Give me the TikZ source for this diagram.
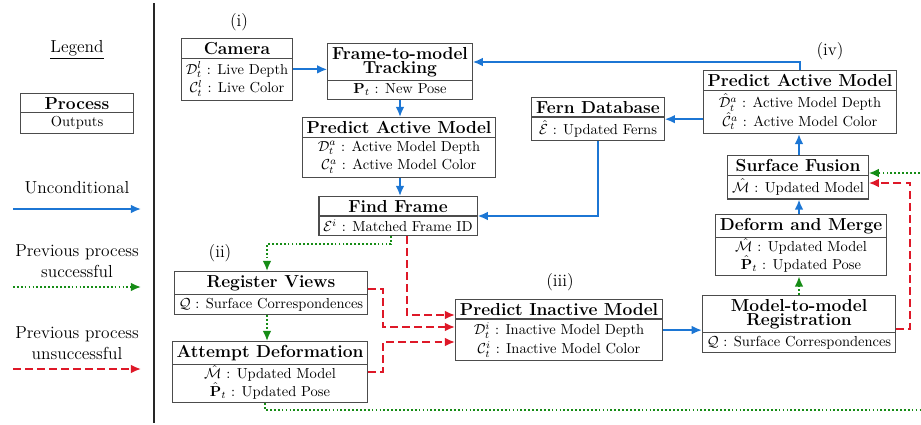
\documentclass[tikz,border=0pt]{standalone}
\usepackage{amsmath}
\usepackage{xcolor}
\usetikzlibrary{shapes.multipart,arrows.meta}
\definecolor{uncblue}{RGB}{28,118,212}
\definecolor{okgreen}{RGB}{22,140,22}
\definecolor{failred}{RGB}{222,24,40}

\begin{document}
\begin{tikzpicture}[x=0.69pt,y=-0.69pt,
    process/.style={rectangle split, rectangle split parts=2, draw=black!70,
        line width=0.8pt, align=center, inner xsep=3pt, inner ysep=2.1pt, anchor=north},
    uncond/.style={draw=uncblue, line width=1.2pt, -{Latex[length=7pt,width=6pt]}},
    success/.style={draw=okgreen, line width=1.2pt, dash pattern=on 1.2pt off 1.5pt,
        -{Latex[length=7pt,width=6pt]}},
    failure/.style={draw=failred, line width=1.2pt, dash pattern=on 5.5pt off 2.8pt,
        -{Latex[length=7pt,width=6pt]}},
    stage/.style={font=\large}]
    \clip (0,0) rectangle (921,424);
    % Legend
    \node[stage] (legtitle) at (77,50) {\underline{Legend}};
    \node[process, text width=72pt] (legbox) at (77,93) {{\large\bfseries Process}\nodepart{two}Outputs};
    \node[stage] (leguncond) at (77,188) {Unconditional};
    \node[stage, align=center] (legsucc) at (77,261) {Previous process\\successful};
    \node[stage, align=center] (legfail) at (77,343) {Previous process\\unsuccessful};
    \coordinate (ua) at (13,209); \coordinate (ub) at (141,209);
    \coordinate (sa) at (13,287); \coordinate (sb) at (141,287);
    \coordinate (fa) at (13,369); \coordinate (fb) at (141,369);
    \draw[uncond] (ua) -- (ub);
    \draw[success] (sa) -- (sb);
    \draw[failure] (fa) -- (fb);
    % Separator
    \coordinate (septop) at (154,3); \coordinate (sepbot) at (154,423);
    \draw[line width=1.2pt, black!85] (septop) -- (sepbot);
    % Stage labels
    \node[stage] (si) at (239,22) {(i)};
    \node[stage] (sii) at (220,253) {(ii)};
    \node[stage] (siii) at (560,282) {(iii)};
    \node[stage] (siv) at (830,51) {(iv)};
    % Processes
    \node[process] (cam) at (237,38) {{\large\bfseries Camera}\nodepart{two}$\mathcal{D}_t^l$ : Live Depth\\[1pt]$\mathcal{C}_t^l$ : Live Color};
    \node[process] (track) at (400,43) {{\large\bfseries Frame-to-model}\\[-2.5pt]{\large\bfseries Tracking}\nodepart{two}$\mathbf{P}_t$ : New Pose};
    \node[process] (pam) at (399,117) {{\large\bfseries Predict Active Model}\nodepart{two}$\mathcal{D}_t^a$ : Active Model Depth\\[1pt]$\mathcal{C}_t^a$ : Active Model Color};
    \node[process] (find) at (398,196) {{\large\bfseries Find Frame}\nodepart{two}$\mathcal{E}^i$ : Matched Frame ID};
    \node[process] (fern) at (598,97) {{\large\bfseries Fern Database}\nodepart{two}$\hat{\mathcal{E}}$ : Updated Ferns};
    \node[process] (pamhat) at (800,70) {{\large\bfseries Predict Active Model}\nodepart{two}$\hat{\mathcal{D}}_t^a$ : Active Model Depth\\[1pt]$\hat{\mathcal{C}}_t^a$ : Active Model Color};
    \node[process] (fusion) at (798,155) {{\large\bfseries Surface Fusion}\nodepart{two}$\hat{\mathcal{M}}$ : Updated Model};
    \node[process] (merge) at (801,214) {{\large\bfseries Deform and Merge}\nodepart{two}\raisebox{0pt}[7.5pt]{$\hat{\mathcal{M}}$} : Updated Model\\\raisebox{0pt}[7.5pt]{$\hat{\mathbf{P}}_t$} : Updated Pose};
    \node[process] (register) at (271,271) {{\large\bfseries Register Views}\nodepart{two}$\mathcal{Q}$ : Surface Correspondences};
    \node[process] (deform) at (270,341) {{\large\bfseries Attempt Deformation}\nodepart{two}\raisebox{0pt}[7.5pt]{$\hat{\mathcal{M}}$} : Updated Model\\\raisebox{0pt}[7.5pt]{$\hat{\mathbf{P}}_t$} : Updated Pose};
    \node[process] (pim) at (559,299) {{\large\bfseries Predict Inactive Model}\nodepart{two}$\mathcal{D}_t^i$ : Inactive Model Depth\\[1pt]$\mathcal{C}_t^i$ : Inactive Model Color};
    \node[process] (m2m) at (799,295) {{\large\bfseries Model-to-model}\\[-2.5pt]{\large\bfseries Registration}\nodepart{two}$\mathcal{Q}$ : Surface Correspondences};
    % Unconditional
    \draw[uncond] (cam.east) -- (cam.east -| track.west);
    \draw[uncond] (pamhat.north) |- (track.east |- 0,62);
    \draw[uncond] (track.south) -- (track.south |- pam.north);
    \draw[uncond] (track.south |- pam.south) -- (track.south |- find.north);
    \draw[uncond] (fern.east -| pamhat.west) -- (fern.east);
    \draw[uncond] (fern.south) |- (find.east);
    \draw[uncond] (pim.east) -- (pim.east -| m2m.west);
    \draw[uncond] (799,0 |- merge.north) -- (799,0 |- fusion.south);
    \draw[uncond] (799,0 |- fusion.north) -- (799,0 |- pamhat.south);
    % Previous process successful
    \draw[success] (391,0 |- find.south) |- (267,244) -- (267,0 |- register.north);
    \draw[success] (267,0 |- register.south) -- (267,0 |- deform.north);
    \draw[success] (799,0 |- m2m.north) -- (799,0 |- merge.south);
    \draw[success] (265,0 |- deform.south) |- (940,410) |- (fusion.east |- 0,173);
    % Previous process unsuccessful
    \draw[failure] (407,0 |- find.south) |- (pim.west |- 0,315);
    \draw[failure] (register.east |- 0,289) -- (383,289) |- (pim.west |- 0,327);
    \draw[failure] (deform.east) -- (383,0 |- deform.east) |- (pim.west |- 0,342);
    \draw[failure] (m2m.east |- 0,329) -- (910,329) |- (fusion.east |- 0,183);
\end{tikzpicture}
\end{document}
